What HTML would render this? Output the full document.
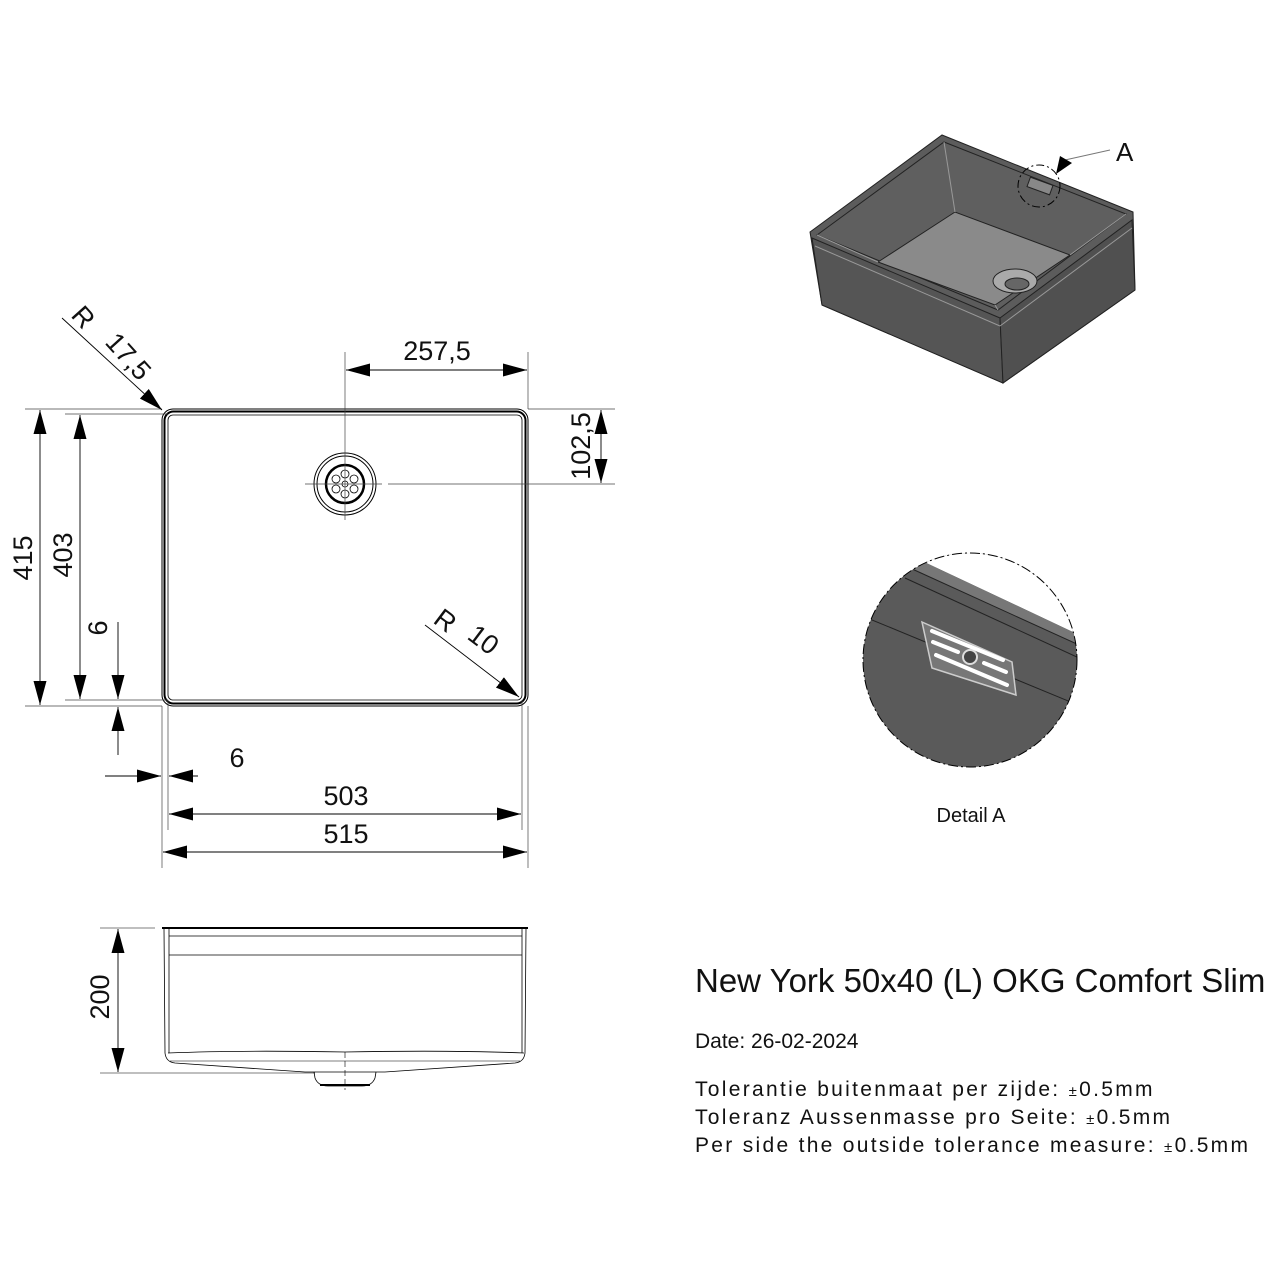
<!DOCTYPE html>
<html><head><meta charset="utf-8"><style>
html,body{margin:0;padding:0;background:#fff}
svg{display:block}
text{font-family:"Liberation Sans",Arial,sans-serif;fill:#111}
</style></head><body>
<svg width="1280" height="1280" viewBox="0 0 1280 1280" xmlns="http://www.w3.org/2000/svg">
<defs>
<marker id="a" markerWidth="24" markerHeight="13" refX="24" refY="6.5" orient="auto" markerUnits="userSpaceOnUse" viewBox="0 0 24 13"><path d="M0,0 L24,6.5 L0,13Z" fill="#000"/></marker>
</defs>
<g stroke="#000" fill="none">
<rect x="162" y="409" width="366" height="297" rx="11" stroke-width="1"/>
<rect x="164.5" y="411.5" width="361" height="292" rx="9" stroke-width="2"/>
<rect x="168" y="415" width="354" height="285" rx="5" stroke-width="0.8"/>
<circle cx="345" cy="484" r="31" stroke-width="1"/>
<circle cx="345" cy="484" r="28" stroke-width="1"/>
<circle cx="345" cy="484" r="19" stroke-width="2.5"/>
<g stroke-width="0.8">
<circle cx="345" cy="484" r="3"/>
<circle cx="345" cy="474" r="4"/><circle cx="345" cy="494" r="4"/>
<circle cx="336" cy="479" r="4"/><circle cx="354" cy="479" r="4"/>
<circle cx="336" cy="489" r="4"/><circle cx="354" cy="489" r="4"/>
</g>
<g stroke-width="0.7" stroke="#444">
<line x1="345" y1="352" x2="345" y2="520"/>
<line x1="305" y1="484" x2="382" y2="484"/>
<line x1="388" y1="484" x2="615" y2="484"/>
<line x1="528" y1="352" x2="528" y2="409"/>
<line x1="528" y1="409" x2="615" y2="409"/>
<line x1="25" y1="409" x2="162" y2="409"/>
<line x1="65" y1="414" x2="168" y2="414"/>
<line x1="65" y1="700" x2="168" y2="700"/>
<line x1="25" y1="706" x2="162" y2="706"/>
<line x1="162" y1="706" x2="162" y2="868"/>
<line x1="168" y1="700" x2="168" y2="830"/>
<line x1="522" y1="700" x2="522" y2="830"/>
<line x1="528" y1="706" x2="528" y2="868"/>
</g>
<g stroke-width="0.9" marker-end="url(#a)">
<line x1="437" y1="370" x2="346" y2="370"/>
<line x1="437" y1="370" x2="527" y2="370"/>
<line x1="601" y1="445" x2="601" y2="410"/>
<line x1="601" y1="445" x2="601" y2="483"/>
<line x1="40" y1="560" x2="40" y2="410"/>
<line x1="40" y1="560" x2="40" y2="705"/>
<line x1="80" y1="560" x2="80" y2="415"/>
<line x1="80" y1="560" x2="80" y2="699"/>
<line x1="118" y1="622" x2="118" y2="699"/>
<line x1="118" y1="755" x2="118" y2="707"/>
<line x1="105" y1="776" x2="161" y2="776"/>
<line x1="198" y1="776" x2="169" y2="776"/>
<line x1="345" y1="814" x2="169" y2="814"/>
<line x1="345" y1="814" x2="521" y2="814"/>
<line x1="345" y1="852" x2="163" y2="852"/>
<line x1="345" y1="852" x2="527" y2="852"/>
<line x1="62" y1="318" x2="162" y2="410"/>
<line x1="425" y1="625" x2="519" y2="697"/>
<line x1="118" y1="1000" x2="118" y2="929"/>
<line x1="118" y1="1000" x2="118" y2="1072"/>
</g>
<g stroke-width="0.8">
<line x1="162" y1="928" x2="528" y2="928" stroke-width="2"/>
<line x1="169" y1="936" x2="522" y2="936"/>
<line x1="169" y1="955" x2="522" y2="955"/>
<path d="M164,929 L165,1053 Q166,1062 175,1063 L305,1072 L385,1072 L515,1063 Q524,1062 525,1053 L526,929"/>
<line x1="169" y1="929" x2="169" y2="1053"/>
<line x1="522" y1="929" x2="522" y2="1053"/>
<path d="M168,1053 Q240,1050 345,1052 Q450,1050 524,1053"/>
<path d="M170,1061 L520,1061" stroke-width="0.6"/>
<path d="M314,1072 L315,1078 Q318,1086 328,1086 L362,1086 Q372,1086 375,1078 L376,1072"/>
<line x1="320" y1="1085" x2="370" y2="1085" stroke-width="2"/>
<line x1="345" y1="1052" x2="345" y2="1090" stroke-dasharray="6,3" stroke-width="0.6"/>
<line x1="100" y1="928" x2="155" y2="928" stroke-width="0.6"/>
<line x1="100" y1="1073" x2="315" y2="1073" stroke-width="0.6"/>
</g>
</g>
<g font-size="27">
<text x="437" y="360" text-anchor="middle">257,5</text>
<text transform="translate(590,446) rotate(-90)" text-anchor="middle">102,5</text>
<text transform="translate(32,558) rotate(-90)" text-anchor="middle">415</text>
<text transform="translate(72,555) rotate(-90)" text-anchor="middle">403</text>
<text transform="translate(107,628) rotate(-90)" text-anchor="middle">6</text>
<text x="237" y="767" text-anchor="middle">6</text>
<text x="346" y="805" text-anchor="middle">503</text>
<text x="346" y="843" text-anchor="middle">515</text>
<text transform="translate(109,997) rotate(-90)" text-anchor="middle">200</text>
<text transform="translate(70,316) rotate(48)">R</text>
<text transform="translate(104,343) rotate(48)">17,5</text>
<text transform="translate(432,622) rotate(37)">R</text>
<text transform="translate(466,638) rotate(37)">10</text>
</g>
<g stroke="#222" stroke-width="1">
<polygon points="810,232 942,135 1133,212 1135,290 1003,383 822,305" fill="#5c5c5c"/>
<polygon points="812,238 1000,318 1003,383 822,305" fill="#555"/>
<polygon points="1000,318 1132,220 1135,290 1003,383" fill="#505050"/>
<polygon points="817,235 944,142 1126,214 998,310" fill="#5f5f5f"/>
<polygon points="878,262 955,212 1070,255 995,305" fill="#8a8a8a"/>
<line x1="944" y1="142" x2="955" y2="212" stroke="#999"/>
<line x1="817" y1="235" x2="878" y2="262" stroke="#999"/>
<line x1="1126" y1="214" x2="1070" y2="255" stroke="#999"/>
<line x1="998" y1="310" x2="995" y2="305" stroke="#999"/>
<line x1="815" y1="246" x2="1000" y2="326" stroke="#999"/>
<line x1="1000" y1="326" x2="1132" y2="228" stroke="#999"/>
<ellipse cx="1015" cy="281" rx="22" ry="12" fill="#aaa"/>
<ellipse cx="1017" cy="284" rx="12" ry="6" fill="#666"/>
<rect x="1028" y="181" width="24" height="10" fill="#888" transform="rotate(20 1040 186)"/>
</g>
<circle cx="1039" cy="186" r="21" fill="none" stroke="#000" stroke-dasharray="8,3,2,3"/>
<line x1="1065" y1="160" x2="1110" y2="150" stroke="#777"/>
<path d="M1056,174 L1060,156 L1072,163Z" fill="#000"/>
<text x="1116" y="161" font-size="26">A</text>
<clipPath id="c"><circle cx="970" cy="660" r="107"/></clipPath>
<g clip-path="url(#c)">
<rect x="860" y="550" width="220" height="220" fill="#5a5a5a"/>
<polygon points="900,540 1090,540 1090,640 920,560" fill="#fff"/>
<polygon points="920,560 1090,640 1090,650 910,568" fill="#777"/>
<line x1="910" y1="568" x2="1090" y2="650" stroke="#222"/>
<line x1="905" y1="578" x2="1090" y2="663" stroke="#222"/>
<line x1="860" y1="615" x2="1090" y2="710" stroke="#222"/>
<polygon points="922,622 1012,662 1016,695 932,668" fill="#777" stroke="#ccc" stroke-width="1.5"/>
<g stroke="#fff" stroke-width="4" stroke-linecap="round">
<line x1="932" y1="631" x2="1003" y2="660"/>
<line x1="933" y1="642" x2="958" y2="652"/>
<line x1="984" y1="663" x2="1006" y2="672"/>
<line x1="936" y1="655" x2="1007" y2="685"/>
</g>
<circle cx="970" cy="657" r="7" fill="#444" stroke="#ddd" stroke-width="2"/>
</g>
<circle cx="970" cy="660" r="107" fill="none" stroke="#000" stroke-dasharray="10,3,2,3"/>
<text x="971" y="822" font-size="20" text-anchor="middle">Detail A</text>
<text x="695" y="992" font-size="33">New York 50x40 (L) OKG Comfort Slim</text>
<text x="695" y="1048" font-size="21">Date: 26-02-2024</text>
<g font-size="21" letter-spacing="2.3">
<text x="695" y="1096">Tolerantie buitenmaat per zijde: <tspan font-size="15">±</tspan>0.5mm</text>
<text x="695" y="1124">Toleranz Aussenmasse pro Seite: <tspan font-size="15">±</tspan>0.5mm</text>
<text x="695" y="1152">Per side the outside tolerance measure: <tspan font-size="15">±</tspan>0.5mm</text>
</g>
</svg>
</body></html>
